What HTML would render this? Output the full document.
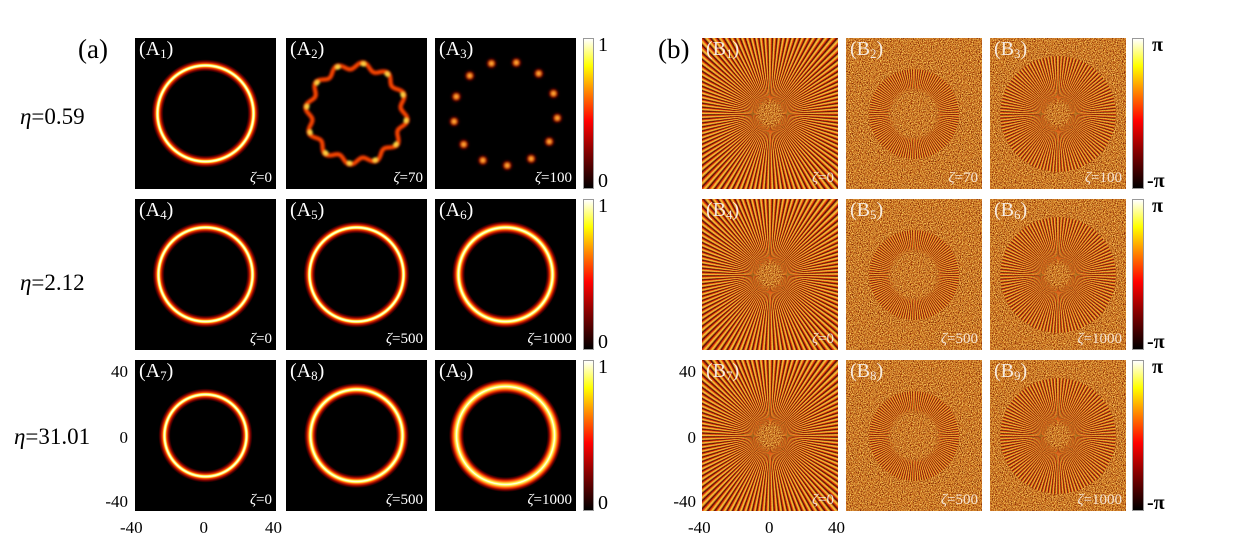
<!DOCTYPE html>
<html><head><meta charset="utf-8">
<style>
html,body{margin:0;background:#fff;width:1244px;height:553px;position:relative;overflow:hidden;font-family:"Liberation Serif",serif;}
.p{position:absolute;overflow:hidden;background:#000;}
.lab{position:absolute;left:4px;top:0px;color:#fff;font-size:20px;}
.lab sub{font-size:13px;vertical-align:-3px}
.z{position:absolute;right:4px;bottom:2px;color:#fff;font-size:15px;}
.t{position:absolute;font-size:17px;color:#000;line-height:20px}
.cb{position:absolute;border:1px solid #999;box-sizing:border-box;}
.eta{position:absolute;font-size:23px;line-height:26px}
.b{background:#c77a30;}
</style></head><body>
<div class="t" style="left:78px;top:34px;font-size:27px;line-height:30px">(a)</div>
<div class="t" style="left:658px;top:34px;font-size:27px;line-height:30px">(b)</div>
<div class="eta" style="left:20px;top:104px"><i>η</i>=0.59</div>
<div class="eta" style="left:20px;top:270px"><i>η</i>=2.12</div>
<div class="eta" style="left:14px;top:424px"><i>η</i>=31.01</div>
<div id="root"></div>
<svg width="0" height="0" style="position:absolute;left:0;top:0">
<filter id="nz" x="0" y="0" width="100%" height="100%" color-interpolation-filters="sRGB"><feTurbulence type="fractalNoise" baseFrequency="1.1" numOctaves="1" seed="3"/>
<feColorMatrix values="2.2 0 0 0 -0.6  2.2 0 0 0 -0.6  2.2 0 0 0 -0.6  0 0 0 0 1"/>
<feComponentTransfer><feFuncR type="table" tableValues="0.35 0.7 0.8 0.92 1"/><feFuncG type="table" tableValues="0.05 0.3 0.48 0.65 0.9"/><feFuncB type="table" tableValues="0 0.06 0.15 0.25 0.45"/></feComponentTransfer></filter>
</svg>
<script>
const root=document.getElementById('root');
let h='';
const AX=[135,286,435],BX=[702,846,990],RY=[38,199,360],W=141,BW=136,H=151;
const zA=[['0','70','100'],['0','500','1000'],['0','500','1000']];
function ring(r,t){const a=t/2;return `radial-gradient(circle at 50% 50%, #000 ${r-a-3}px, #700 ${r-a-1}px, #f40 ${r-a+1}px, #ff5 ${r-1}px, #fff ${r}px, #ff5 ${r+1}px, #f40 ${r+a-1}px, #700 ${r+a+1}px, #000 ${r+a+3}px)`;}
const rings=[[48,6],null,null,[47,6],[47,6],[47,7],[41,6],[46,7],[49,9]];
for(let i=0;i<3;i++)for(let j=0;j<3;j++){
 const k=i*3+j, x=AX[j], y=RY[i];
 let bg = rings[k]?ring(rings[k][0],rings[k][1]):'#000';
 let inner='';
 if(k==1||k==2){
  let s=`<svg width="${W}" height="${H}" style="position:absolute;left:0;top:0"><defs><filter id="bl${k}"><feGaussianBlur stdDeviation="${k==1?1.0:1.3}"/></filter></defs><g filter="url(#bl${k})">`;
  if(k==1){let pts=[];for(let a=0;a<=360;a+=3){const t=a*Math.PI/180;const r=48+3.5*Math.sin(12*t);pts.push((70.5+r*Math.cos(t)).toFixed(1)+','+(75.5+r*Math.sin(t)).toFixed(1));}
   s+=`<polyline points="${pts.join(' ')}" fill="none" stroke="#c02000" stroke-width="5"/><polyline points="${pts.join(' ')}" fill="none" stroke="#ff5000" stroke-width="2"/>`;
   for(let n=0;n<12;n++){const t=(n*30+8)*Math.PI/180;const r=50;s+=`<circle cx="${70.5+r*Math.cos(t)}" cy="${75.5+r*Math.sin(t)}" r="2.6" fill="#ffd040"/>`;}
  }else{for(let n=0;n<13;n++){const t=(n*27.7+5)*Math.PI/180;const r=52;const cx=70.5+r*Math.cos(t),cy=75.5+r*Math.sin(t);s+=`<circle cx="${cx}" cy="${cy}" r="5" fill="#500"/><circle cx="${cx}" cy="${cy}" r="3" fill="#ff3000"/><circle cx="${cx}" cy="${cy}" r="1.6" fill="#ffd040"/>`;}}
  s+='</g></svg>';inner=s;
 }
 h+=`<div class="p" style="left:${x}px;top:${y}px;width:${W}px;height:${H}px;background:${bg}">${inner}<div class="lab">(A<sub>${k+1}</sub>)</div><div class="z"><i>ζ</i>=${zA[i][j]}</div></div>`;
 const bx=BX[j];
 const rad=j==0?110:(j==1?45:58);
 const hole=j==0?10:(j==1?22:10);
 h+=`<div class="p b" style="left:${bx}px;top:${y}px;width:${BW}px;height:${H}px">
 <svg width="${BW}" height="${H}" style="position:absolute;left:0;top:0"><rect x="0" y="0" width="${BW}" height="${H}" filter="url(#nz)"/></svg>
 <div style="position:absolute;left:${BW/2-rad}px;top:${H/2-rad}px;width:${2*rad}px;height:${2*rad}px;border-radius:50%;background:repeating-conic-gradient(#ffe040 0deg,#e02000 1.2deg,#300 2deg,#d07020 2.6deg,#ffe040 3.3deg);opacity:${j==0?0.9:0.8};-webkit-mask:radial-gradient(circle,transparent ${hole}px,#000 ${hole+5}px);mask:radial-gradient(circle,transparent ${hole}px,#000 ${hole+5}px)"></div>
 <div class="lab" style="opacity:.85">(B<sub>${k+1}</sub>)</div><div class="z" style="opacity:.8"><i>ζ</i>=${zA[i][j]}</div></div>`;
}
for(let i=0;i<3;i++){const y=RY[i];
 h+=`<div class="cb" style="left:583px;top:${y}px;width:11px;height:${H}px;background:linear-gradient(to top,#000,#800 25%,#f00 45%,#f80 65%,#ff0 82%,#fff)"></div>
 <div class="t" style="left:598px;top:${y-3}px;font-size:20px">1</div><div class="t" style="left:598px;top:${y+H-18}px;font-size:20px">0</div>
 <div class="cb" style="left:1132px;top:${y}px;width:12px;height:${H}px;background:linear-gradient(to top,#000,#800 25%,#f00 45%,#f80 65%,#ff0 82%,#fff)"></div>
 <div class="t" style="left:1152px;top:${y-3}px;font-size:20px;font-weight:bold">π</div><div class="t" style="left:1147px;top:${y+H-18}px;font-size:20px;font-weight:bold">-π</div>`;}
for(const [px,w] of [[134,141],[702,136]]){
 h+=`<div class="t" style="left:${px-32}px;top:362px;width:26px;text-align:right">40</div>
 <div class="t" style="left:${px-32}px;top:428px;width:26px;text-align:right">0</div>
 <div class="t" style="left:${px-36}px;top:492px;width:30px;text-align:right">-40</div>
 <div class="t" style="left:${px-14}px;top:518px">-40</div>
 <div class="t" style="left:${px+w/2-5}px;top:518px">0</div>
 <div class="t" style="left:${px+w-10}px;top:518px">40</div>`;}
root.innerHTML=h;
</script>
</body></html>
